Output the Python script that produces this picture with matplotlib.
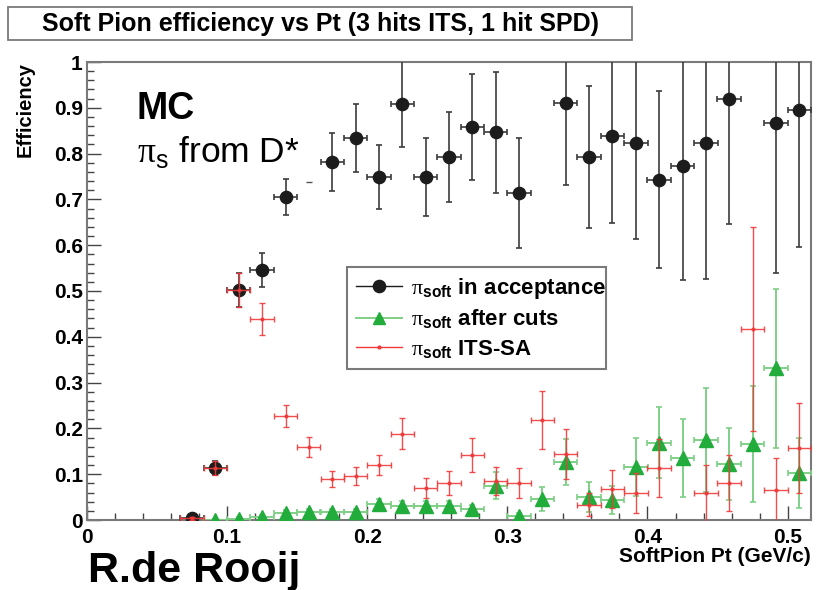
import matplotlib
matplotlib.use('Agg')
import matplotlib.pyplot as plt
from matplotlib.lines import Line2D
from matplotlib.patches import Rectangle
from matplotlib.ticker import MultipleLocator

plt.rcParams['font.family'] = ['Liberation Sans', 'DejaVu Sans']
plt.rcParams['mathtext.fontset'] = 'custom'
plt.rcParams['mathtext.rm'] = 'Liberation Serif:normal'
plt.rcParams['mathtext.bf'] = 'Liberation Sans:bold'
plt.rcParams['mathtext.sf'] = 'Liberation Sans:normal'

# bin half width in pt (GeV/c)
half_bin = 0.00833

# pi_soft in acceptance
acc_pt = [0.0750, 0.0917, 0.1083, 0.1250, 0.1417, 0.1750, 0.1917, 0.2083,
          0.2250, 0.2417, 0.2583, 0.2750, 0.2917, 0.3083, 0.3417, 0.3583,
          0.3750, 0.3917, 0.4083, 0.4250, 0.4417, 0.4583, 0.4917, 0.5083]
acc_eff = [0.004, 0.113, 0.502, 0.546, 0.705, 0.782, 0.834, 0.749,
           0.908, 0.749, 0.793, 0.858, 0.847, 0.714, 0.910, 0.793,
           0.838, 0.824, 0.743, 0.773, 0.824, 0.919, 0.867, 0.895]
acc_err = [0.003, 0.015, 0.038, 0.038, 0.040, 0.064, 0.074, 0.070,
           0.094, 0.086, 0.098, 0.116, 0.132, 0.121, 0.179, 0.155,
           0.190, 0.211, 0.193, 0.249, 0.298, 0.273, 0.328, 0.299]

# pi_soft after cuts
cut_pt = [0.0917, 0.1083, 0.1250, 0.1417, 0.1583, 0.1750, 0.1917, 0.2083,
          0.2250, 0.2417, 0.2583, 0.2750, 0.2917, 0.3083, 0.3250, 0.3417,
          0.3583, 0.3750, 0.3917, 0.4083, 0.4250, 0.4417, 0.4583, 0.4750,
          0.4917, 0.5083]
cut_eff = [0.000, 0.003, 0.007, 0.016, 0.018, 0.017, 0.017, 0.034,
           0.031, 0.031, 0.031, 0.023, 0.075, 0.008, 0.046, 0.127,
           0.050, 0.044, 0.116, 0.169, 0.135, 0.175, 0.122, 0.166,
           0.331, 0.103]
cut_err = [0.002, 0.003, 0.004, 0.006, 0.006, 0.006, 0.006, 0.012,
           0.010, 0.010, 0.010, 0.009, 0.030, 0.008, 0.027, 0.050,
           0.033, 0.030, 0.064, 0.077, 0.085, 0.113, 0.078, 0.127,
           0.173, 0.077]

# pi_soft ITS standalone
sa_pt = [0.0750, 0.0917, 0.1083, 0.1250, 0.1417, 0.1583, 0.1750, 0.1917,
         0.2083, 0.2250, 0.2417, 0.2583, 0.2750, 0.2917, 0.3083, 0.3250,
         0.3417, 0.3583, 0.3750, 0.3917, 0.4083, 0.4417, 0.4583, 0.4750,
         0.4917, 0.5083]
sa_eff = [0.004, 0.113, 0.502, 0.439, 0.227, 0.160, 0.089, 0.096,
          0.120, 0.188, 0.070, 0.081, 0.142, 0.085, 0.081, 0.218,
          0.144, 0.033, 0.068, 0.059, 0.113, 0.059, 0.081, 0.417,
          0.066, 0.157]
sa_err = [0.003, 0.015, 0.037, 0.035, 0.024, 0.022, 0.017, 0.019,
          0.022, 0.034, 0.022, 0.026, 0.037, 0.030, 0.032, 0.064,
          0.055, 0.025, 0.042, 0.043, 0.063, 0.062, 0.062, 0.222,
          0.070, 0.098]

# lone empty-bin marker
stray_pt = [0.1583]
stray_eff = [0.738]

W, H = 818, 590
fig = plt.figure(figsize=(W / 100, H / 100), dpi=100)
ax = fig.add_axes([87 / W, 70 / H, 724 / W, 458 / H])

black = '#1c1c1c'
green = '#22ac3c'
green_err = '#7fcf86'
red = '#f03a3a'

ax.errorbar(acc_pt, acc_eff, yerr=acc_err, xerr=half_bin, fmt='o', ms=8.8,
            color=black, ecolor='#3c3c3c', elinewidth=1.2, capsize=2.5,
            capthick=1.2, zorder=3)
ax.plot(stray_pt, stray_eff, '_', ms=4, color='#555555', mew=1.0)
ax.errorbar(cut_pt, cut_eff, yerr=cut_err, xerr=half_bin, fmt='^', ms=10,
            color=green, ecolor=green_err, elinewidth=1.4, capsize=2.5,
            capthick=1.2, zorder=4)
ax.errorbar(sa_pt, sa_eff, yerr=sa_err, xerr=half_bin, fmt='o', ms=2,
            color=red, ecolor=red, elinewidth=1.0, capsize=2.5,
            capthick=1.0, alpha=0.9, zorder=5)

ax.set_xlim(0, 0.5167)
ax.set_ylim(0, 1)
ax.xaxis.set_minor_locator(MultipleLocator(0.02))
ax.yaxis.set_minor_locator(MultipleLocator(0.02))
ax.set_xticks([0, 0.1, 0.2, 0.3, 0.4, 0.5])
ax.set_xticklabels(['0', '0.1', '0.2', '0.3', '0.4', '0.5'])
ax.set_yticks([0, 0.1, 0.2, 0.3, 0.4, 0.5, 0.6, 0.7, 0.8, 0.9, 1.0])
ax.set_yticklabels(['0', '0.1', '0.2', '0.3', '0.4', '0.5', '0.6', '0.7',
                    '0.8', '0.9', '1'])
ax.tick_params(which='both', direction='in', color='#444444', labelsize=15)
ax.tick_params(which='major', length=10, width=1.0)
ax.tick_params(which='minor', length=5, width=1.0)
ax.tick_params(axis='x', pad=6)
ax.tick_params(axis='y', pad=3)
for lbl in ax.get_xticklabels() + ax.get_yticklabels():
    lbl.set_fontweight('bold')
for s in ax.spines.values():
    s.set_color('#7a7a7a')
    s.set_linewidth(1.5)

ax.set_ylabel('Efficiency', fontsize=14.5, fontweight='bold', loc='top')
ax.yaxis.set_label_coords(-0.072, 1.0)
ax.set_xlabel('SoftPion Pt (GeV/c)', fontsize=15, fontweight='bold', loc='right')
ax.xaxis.set_label_coords(1.0, -0.058)

ax.text(0.069, 0.876, 'MC', transform=ax.transAxes, fontsize=27,
        fontweight='bold', va='baseline')
ax.text(0.069, 0.782, r'$\mathrm{\pi}_{\mathsf{s}}$ from D*', transform=ax.transAxes,
        fontsize=25.5, va='baseline')

handles = [
    Line2D([], [], color=black, lw=1.0, marker='o', ms=8.8),
    Line2D([], [], color=green_err, lw=1.4, marker='^', ms=9, mfc=green, mec=green),
    Line2D([], [], color=red, lw=1.0, marker='o', ms=2),
]
labels = [r'$\mathrm{\pi}_{\mathbf{soft}}$ in acceptance',
          r'$\mathrm{\pi}_{\mathbf{soft}}$ after cuts',
          r'$\mathrm{\pi}_{\mathbf{soft}}$ ITS-SA']
leg = ax.legend(handles, labels, loc='upper left',
                bbox_to_anchor=(0.359, 0.552, 0.358, 0.0), mode='expand',
                borderaxespad=0, fancybox=False, framealpha=1,
                edgecolor='#7a7a7a', handlelength=2.1,
                handletextpad=0.4, labelspacing=0.3, borderpad=0.4,
                prop={'size': 16, 'weight': 'bold'})
leg.get_frame().set_linewidth(1.5)

# title box
fig.patches.append(Rectangle((8 / W, 1 - 40 / H), 624 / W, 33 / H,
                             transform=fig.transFigure, facecolor='white',
                             edgecolor='#7a7a7a', lw=1.3))
fig.text(320 / W, 1 - 24 / H, 'Soft Pion efficiency vs Pt (3 hits ITS, 1 hit SPD)',
         ha='center', va='center', fontsize=18, fontweight='bold')

fig.text(88 / W, 1 - 582 / H, 'R.de Rooij', fontsize=31, fontweight='bold',
         va='baseline')

fig.savefig('out.png', dpi=100)
